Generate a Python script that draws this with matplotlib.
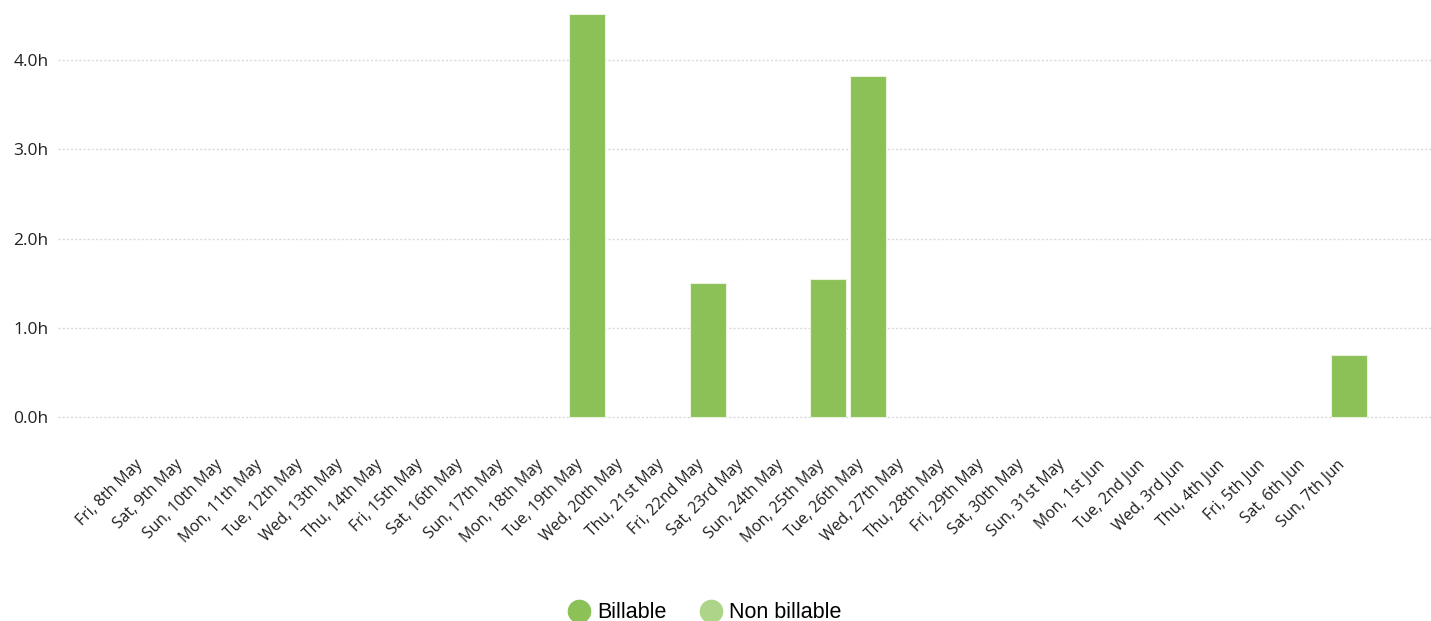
import matplotlib
matplotlib.use("Agg")
import matplotlib.pyplot as plt
from matplotlib.lines import Line2D
from matplotlib.transforms import ScaledTranslation
import numpy as np

days = ["Fri, 8th May", "Sat, 9th May", "Sun, 10th May", "Mon, 11th May", "Tue, 12th May",
        "Wed, 13th May", "Thu, 14th May", "Fri, 15th May", "Sat, 16th May", "Sun, 17th May",
        "Mon, 18th May", "Tue, 19th May", "Wed, 20th May", "Thu, 21st May", "Fri, 22nd May",
        "Sat, 23rd May", "Sun, 24th May", "Mon, 25th May", "Tue, 26th May", "Wed, 27th May",
        "Thu, 28th May", "Fri, 29th May", "Sat, 30th May", "Sun, 31st May", "Mon, 1st Jun",
        "Tue, 2nd Jun", "Wed, 3rd Jun", "Thu, 4th Jun", "Fri, 5th Jun", "Sat, 6th Jun",
        "Sun, 7th Jun"]
billable = [0, 0, 0, 0, 0, 0, 0, 0, 0, 0, 0, 4.52, 0, 0, 1.5, 0, 0, 1.55, 3.82, 0,
            0, 0, 0, 0, 0, 0, 0, 0, 0, 0, 0.69]
non_billable = [0] * 31
yticks = [0, 1, 2, 3, 4]

green = "#8bc157"
light_green = "#add58a"

W, H = 1431, 621
fig = plt.figure(figsize=(W / 100, H / 100), dpi=100)
ax = fig.add_axes([58 / W, 1 - 419 / H, 1 - 58 / W, (419 - 5) / H])

x = np.arange(len(days))
# no outline on empty days so the zero gridline stays visible
edges = [0.8 if v > 0 else 0 for v in billable]
ax.bar(x, billable, width=0.9, color=green, edgecolor="#e8f3dc", linewidth=edges, zorder=3)
ax.bar(x, non_billable, width=0.9, bottom=billable, color=light_green, linewidth=0, zorder=3)

ax.set_xlim(-2.2, 32.04)
ax.set_ylim(-0.025, 4.62)
ax.set_yticks(yticks)
ax.set_yticklabels([f"{v:.1f}h" for v in yticks], fontsize=12.5, color="#222222",
                   family="Open Sans")
ax.set_xticks(x)
ax.set_xticklabels(days, rotation=45, ha="right", rotation_mode="anchor",
                   fontsize=11.3, color="#1e1e1e", family="Open Sans")
ax.tick_params(axis="x", length=0, pad=27)
ax.tick_params(axis="y", length=0, pad=7)
shift = ScaledTranslation(-12 / 100, 0, fig.dpi_scale_trans)
for lbl in ax.get_xticklabels():
    lbl.set_transform(lbl.get_transform() + shift)

ax.grid(axis="y", color="#d9d9d9", linestyle=(0, (1.5, 1.5)), linewidth=1, zorder=0)
for s in ax.spines.values():
    s.set_visible(False)

handles = [Line2D([], [], marker="o", linestyle="none", markersize=16, color=green),
           Line2D([], [], marker="o", linestyle="none", markersize=16, color=light_green)]
fig.legend(handles, ["Billable", "Non billable"], loc="center", ncol=2, frameon=False,
           bbox_to_anchor=(705 / W, 1 - 613 / H), handlelength=1.0, handletextpad=0.35,
           columnspacing=1.55, prop={"family": "Liberation Sans", "size": 15.5})

fig.savefig("out.png", dpi=100)
